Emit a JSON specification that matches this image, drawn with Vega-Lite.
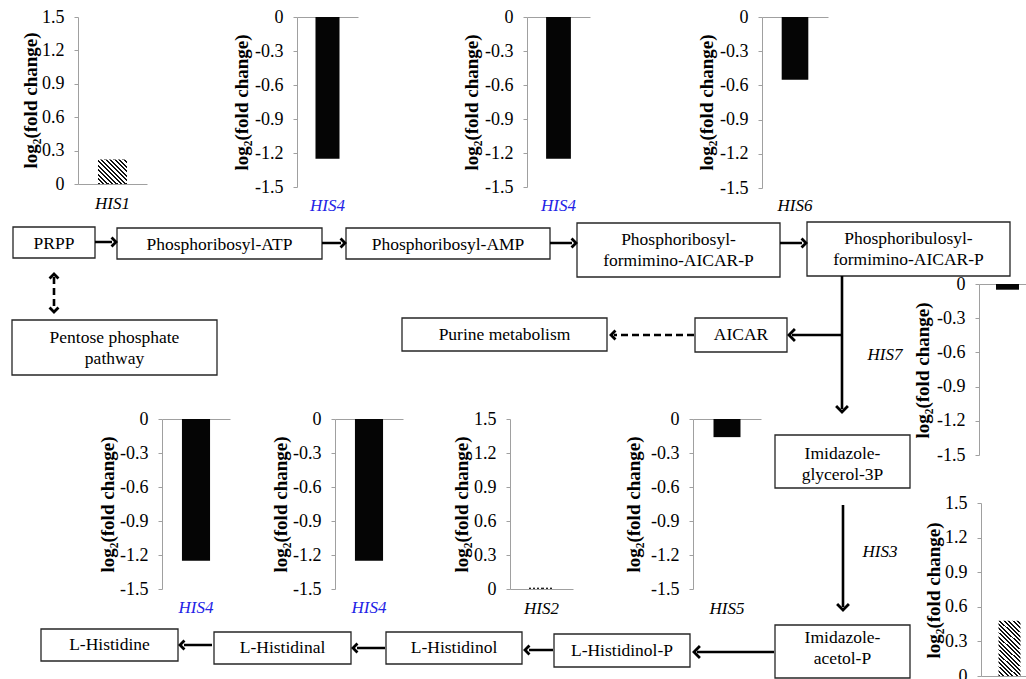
{
  "$schema": "https://vega.github.io/schema/vega-lite/v6.json",
  "width": 1026,
  "height": 679,
  "padding": 0,
  "autosize": {"type": "none"},
  "background": "white",
  "config": {
    "view": {"stroke": null},
    "axis": {"grid": false, "domainColor": "#a0a0a0", "tickColor": "#a0a0a0", "labelFont": "Liberation Serif", "labelFontSize": 18, "labelColor": "#000", "titleFont": "Liberation Serif", "titleFontSize": 19, "titleFontWeight": "bold", "titleColor": "#000"},
    "axisY": {"tickSize": 4, "labelPadding": 10, "titleBaseline": "middle", "titleAlign": "center", "titleAngle": -90},
    "text": {"font": "Liberation Serif", "fontSize": 17}
  },
  "datasets": {
    "boxes": [
      {"label": "PRPP", "x1": 13, "x2": 95, "y1": 227, "y2": 258, "tx": 54, "ty": 244},
      {"label": "Phosphoribosyl-ATP", "x1": 117, "x2": 322, "y1": 228, "y2": 259, "tx": 219.5, "ty": 244.5},
      {"label": "Phosphoribosyl-AMP", "x1": 346, "x2": 550, "y1": 228, "y2": 259, "tx": 448, "ty": 244.5},
      {"label": "Phosphoribosyl-\nformimino-AICAR-P", "x1": 577, "x2": 780, "y1": 223, "y2": 277, "tx": 678.5, "ty": 240},
      {"label": "Phosphoribulosyl-\nformimino-AICAR-P", "x1": 807, "x2": 1010, "y1": 222, "y2": 276, "tx": 908.5, "ty": 239},
      {"label": "Pentose phosphate\npathway", "x1": 12, "x2": 217, "y1": 320, "y2": 375, "tx": 114.5, "ty": 338},
      {"label": "Purine metabolism", "x1": 402, "x2": 607, "y1": 318, "y2": 351, "tx": 504.5, "ty": 335},
      {"label": "AICAR", "x1": 695, "x2": 787, "y1": 318, "y2": 352, "tx": 741, "ty": 335},
      {"label": "Imidazole-\nglycerol-3P", "x1": 775, "x2": 910, "y1": 435, "y2": 488, "tx": 842.5, "ty": 454},
      {"label": "Imidazole-\nacetol-P", "x1": 775, "x2": 910, "y1": 625, "y2": 678, "tx": 842.5, "ty": 638},
      {"label": "L-Histidinol-P", "x1": 554, "x2": 690, "y1": 634, "y2": 667, "tx": 622, "ty": 650.5},
      {"label": "L-Histidinol", "x1": 386, "x2": 522, "y1": 632, "y2": 664, "tx": 454, "ty": 648},
      {"label": "L-Histidinal", "x1": 214, "x2": 351, "y1": 632, "y2": 664, "tx": 282.5, "ty": 648},
      {"label": "L-Histidine", "x1": 41, "x2": 178, "y1": 629, "y2": 661, "tx": 109.5, "ty": 645}
    ],
    "lines": [
      {"x1": 95, "y1": 242, "x2": 112, "y2": 242, "dash": "solid"},
      {"x1": 322, "y1": 243, "x2": 341, "y2": 243, "dash": "solid"},
      {"x1": 550, "y1": 243, "x2": 572, "y2": 243, "dash": "solid"},
      {"x1": 780, "y1": 243, "x2": 802, "y2": 243, "dash": "solid"},
      {"x1": 842, "y1": 276, "x2": 842, "y2": 409, "dash": "solid"},
      {"x1": 842, "y1": 335, "x2": 792, "y2": 335, "dash": "solid"},
      {"x1": 843, "y1": 505, "x2": 843, "y2": 607, "dash": "solid"},
      {"x1": 774, "y1": 652, "x2": 697, "y2": 652, "dash": "solid"},
      {"x1": 553, "y1": 650, "x2": 529, "y2": 650, "dash": "solid"},
      {"x1": 385, "y1": 648, "x2": 357, "y2": 648, "dash": "solid"},
      {"x1": 212, "y1": 645, "x2": 184, "y2": 645, "dash": "solid"},
      {"x1": 54, "y1": 277, "x2": 54, "y2": 309, "dash": "dashed"},
      {"x1": 694, "y1": 335, "x2": 614, "y2": 335, "dash": "dashed"}
    ],
    "heads": [
      {"x": 116, "y": 242, "angle": 0, "kind": "short"},
      {"x": 345, "y": 243, "angle": 0, "kind": "short"},
      {"x": 576, "y": 243, "angle": 0, "kind": "short"},
      {"x": 806, "y": 243, "angle": 0, "kind": "short"},
      {"x": 842, "y": 412, "angle": 90, "kind": "long"},
      {"x": 789, "y": 335, "angle": 180, "kind": "long"},
      {"x": 843, "y": 610, "angle": 90, "kind": "long"},
      {"x": 694, "y": 652, "angle": 180, "kind": "long"},
      {"x": 525, "y": 650, "angle": 180, "kind": "short"},
      {"x": 353, "y": 648, "angle": 180, "kind": "short"},
      {"x": 180, "y": 645, "angle": 180, "kind": "short"},
      {"x": 54, "y": 274, "angle": 270, "kind": "short"},
      {"x": 54, "y": 312, "angle": 90, "kind": "short"},
      {"x": 611, "y": 335, "angle": 180, "kind": "short"}
    ],
    "enzymes": [
      {"t": "HIS7", "x": 885, "y": 355},
      {"t": "HIS3", "x": 880, "y": 552}
    ]
  },
  "layer": [
    {
      "layer": [
        {
          "data": {"name": "boxes"},
          "mark": {"type": "rect", "fill": "white", "stroke": "#262626", "strokeWidth": 1.3},
          "encoding": {
            "x": {"field": "x1", "type": "quantitative", "scale": {"domain": [0, 1026], "range": [0, 1026], "nice": false, "zero": false}, "axis": null},
            "x2": {"field": "x2"},
            "y": {"field": "y1", "type": "quantitative", "scale": {"domain": [0, 679], "range": [0, 679], "nice": false, "zero": false}, "axis": null},
            "y2": {"field": "y2"}
          }
        },
        {
          "data": {"name": "boxes"},
          "mark": {"type": "text", "baseline": "middle", "align": "center", "lineBreak": "\n", "lineHeight": 21, "fontSize": 17.5, "color": "#000"},
          "encoding": {
            "x": {"field": "tx", "type": "quantitative", "scale": {"domain": [0, 1026], "range": [0, 1026], "nice": false, "zero": false}, "axis": null},
            "y": {"field": "ty", "type": "quantitative", "scale": {"domain": [0, 679], "range": [0, 679], "nice": false, "zero": false}, "axis": null},
            "text": {"field": "label"}
          }
        },
        {
          "data": {"name": "lines"},
          "mark": {"type": "rule", "color": "#000", "strokeWidth": 2.6},
          "encoding": {
            "x": {"field": "x1", "type": "quantitative", "scale": {"domain": [0, 1026], "range": [0, 1026], "nice": false, "zero": false}, "axis": null},
            "x2": {"field": "x2"},
            "y": {"field": "y1", "type": "quantitative", "scale": {"domain": [0, 679], "range": [0, 679], "nice": false, "zero": false}, "axis": null},
            "y2": {"field": "y2"},
            "strokeDash": {"field": "dash", "type": "nominal", "scale": {"domain": ["solid", "dashed"], "range": [[1, 0], [7, 4]]}, "legend": null}
          }
        },
        {
          "data": {"name": "heads"},
          "mark": {"type": "point", "shape": "M-1,-1L0,0L-1,1", "filled": false, "stroke": "#000", "strokeWidth": 2.8, "opacity": 1, "strokeJoin": "miter"},
          "encoding": {
            "x": {"field": "x", "type": "quantitative", "scale": {"domain": [0, 1026], "range": [0, 1026], "nice": false, "zero": false}, "axis": null},
            "y": {"field": "y", "type": "quantitative", "scale": {"domain": [0, 679], "range": [0, 679], "nice": false, "zero": false}, "axis": null},
            "angle": {"field": "angle", "type": "quantitative", "scale": null},
            "size": {"field": "kind", "type": "ordinal", "scale": {"domain": ["short", "long"], "range": [80, 140]}, "legend": null}
          }
        },
        {
          "data": {"name": "enzymes"},
          "mark": {"type": "text", "baseline": "middle", "align": "center", "fontStyle": "italic", "color": "#000"},
          "encoding": {
            "x": {"field": "x", "type": "quantitative", "scale": {"domain": [0, 1026], "range": [0, 1026], "nice": false, "zero": false}, "axis": null},
            "y": {"field": "y", "type": "quantitative", "scale": {"domain": [0, 679], "range": [0, 679], "nice": false, "zero": false}, "axis": null},
            "text": {"field": "t"}
          }
        }
      ]
    },
    {
      "data": {"values": [{"gene": "HIS1", "value": 0.22}]},
      "encoding": {
        "x": {"field": "gene", "type": "nominal", "scale": {"type": "band", "domain": ["HIS1"], "range": [78, 147], "paddingInner": 0, "paddingOuter": 0.69}, "axis": {"orient": "bottom", "offset": -495, "labels": false, "ticks": false, "title": null, "domain": true}},
        "y": {"field": "value", "type": "quantitative", "stack": null, "scale": {"domain": [0, 1.5], "range": [184, 17], "nice": false}, "axis": {"orient": "left", "offset": -78, "values": [0, 0.3, 0.6, 0.9, 1.2, 1.5], "labelExpr": "datum.value == 0 ? '0' : (datum.value < 0 ? '-' + format(-datum.value, '.1f') : format(datum.value, '.1f'))", "title": "log₂(fold change)", "titleX": -48, "titleY": 100}}
      },
      "layer": [
        {"mark": {"type": "bar", "fill": {"gradient": "linear", "x1": 0, "y1": 1, "x2": 1.068, "y2": 0.079, "stops": [
          {"offset": 0, "color": "#111"}, {"offset": 0.0375, "color": "#111"}, {"offset": 0.0375, "color": "#fff"}, {"offset": 0.0833, "color": "#fff"},
          {"offset": 0.0833, "color": "#111"}, {"offset": 0.1208, "color": "#111"}, {"offset": 0.1208, "color": "#fff"}, {"offset": 0.1667, "color": "#fff"},
          {"offset": 0.1667, "color": "#111"}, {"offset": 0.2042, "color": "#111"}, {"offset": 0.2042, "color": "#fff"}, {"offset": 0.25, "color": "#fff"},
          {"offset": 0.25, "color": "#111"}, {"offset": 0.2875, "color": "#111"}, {"offset": 0.2875, "color": "#fff"}, {"offset": 0.3333, "color": "#fff"},
          {"offset": 0.3333, "color": "#111"}, {"offset": 0.3708, "color": "#111"}, {"offset": 0.3708, "color": "#fff"}, {"offset": 0.4167, "color": "#fff"},
          {"offset": 0.4167, "color": "#111"}, {"offset": 0.4542, "color": "#111"}, {"offset": 0.4542, "color": "#fff"}, {"offset": 0.5, "color": "#fff"},
          {"offset": 0.5, "color": "#111"}, {"offset": 0.5375, "color": "#111"}, {"offset": 0.5375, "color": "#fff"}, {"offset": 0.5833, "color": "#fff"},
          {"offset": 0.5833, "color": "#111"}, {"offset": 0.6208, "color": "#111"}, {"offset": 0.6208, "color": "#fff"}, {"offset": 0.6667, "color": "#fff"},
          {"offset": 0.6667, "color": "#111"}, {"offset": 0.7042, "color": "#111"}, {"offset": 0.7042, "color": "#fff"}, {"offset": 0.75, "color": "#fff"},
          {"offset": 0.75, "color": "#111"}, {"offset": 0.7875, "color": "#111"}, {"offset": 0.7875, "color": "#fff"}, {"offset": 0.8333, "color": "#fff"},
          {"offset": 0.8333, "color": "#111"}, {"offset": 0.8708, "color": "#111"}, {"offset": 0.8708, "color": "#fff"}, {"offset": 0.9167, "color": "#fff"},
          {"offset": 0.9167, "color": "#111"}, {"offset": 0.9542, "color": "#111"}, {"offset": 0.9542, "color": "#fff"}, {"offset": 1, "color": "#fff"}
        ]}}},
        {"mark": {"type": "text", "fontStyle": "italic", "baseline": "alphabetic", "align": "center", "dy": 25, "color": "#000"}, "encoding": {"y": {"datum": 0}, "text": {"field": "gene"}}}
      ]
    },
    {
      "data": {"values": [{"gene": "HIS4", "value": -1.25}]},
      "encoding": {
        "x": {"field": "gene", "type": "nominal", "scale": {"type": "band", "domain": ["HIS4"], "range": [297, 358], "paddingInner": 0, "paddingOuter": 0.77}, "axis": {"orient": "top", "offset": -17, "labels": false, "ticks": false, "title": null, "domain": true}},
        "y": {"field": "value", "type": "quantitative", "stack": null, "scale": {"domain": [-1.5, 0], "range": [187, 17], "nice": false}, "axis": {"orient": "left", "offset": -297, "values": [0, -0.3, -0.6, -0.9, -1.2, -1.5], "labelExpr": "datum.value == 0 ? '0' : (datum.value < 0 ? '-' + format(-datum.value, '.1f') : format(datum.value, '.1f'))", "title": "log₂(fold change)", "titleX": -56, "titleY": 102}}
      },
      "layer": [
        {"mark": {"type": "bar", "fill": "#050505"}},
        {"mark": {"type": "text", "fontStyle": "italic", "baseline": "alphabetic", "align": "center", "dy": 24, "color": "#2323e6"}, "encoding": {"y": {"datum": -1.5}, "text": {"field": "gene"}}}
      ]
    },
    {
      "data": {"values": [{"gene": "HIS4", "value": -1.25}]},
      "encoding": {
        "x": {"field": "gene", "type": "nominal", "scale": {"type": "band", "domain": ["HIS4"], "range": [527, 590], "paddingInner": 0, "paddingOuter": 0.77}, "axis": {"orient": "top", "offset": -17, "labels": false, "ticks": false, "title": null, "domain": true}},
        "y": {"field": "value", "type": "quantitative", "stack": null, "scale": {"domain": [-1.5, 0], "range": [187, 17], "nice": false}, "axis": {"orient": "left", "offset": -527, "values": [0, -0.3, -0.6, -0.9, -1.2, -1.5], "labelExpr": "datum.value == 0 ? '0' : (datum.value < 0 ? '-' + format(-datum.value, '.1f') : format(datum.value, '.1f'))", "title": "log₂(fold change)", "titleX": -56, "titleY": 102}}
      },
      "layer": [
        {"mark": {"type": "bar", "fill": "#050505"}},
        {"mark": {"type": "text", "fontStyle": "italic", "baseline": "alphabetic", "align": "center", "dy": 24, "color": "#2323e6"}, "encoding": {"y": {"datum": -1.5}, "text": {"field": "gene"}}}
      ]
    },
    {
      "data": {"values": [{"gene": "HIS6", "value": -0.55}]},
      "encoding": {
        "x": {"field": "gene", "type": "nominal", "scale": {"type": "band", "domain": ["HIS6"], "range": [762, 828], "paddingInner": 0, "paddingOuter": 0.74}, "axis": {"orient": "top", "offset": -17, "labels": false, "ticks": false, "title": null, "domain": true}},
        "y": {"field": "value", "type": "quantitative", "stack": null, "scale": {"domain": [-1.5, 0], "range": [188, 17], "nice": false}, "axis": {"orient": "left", "offset": -762, "values": [0, -0.3, -0.6, -0.9, -1.2, -1.5], "labelExpr": "datum.value == 0 ? '0' : (datum.value < 0 ? '-' + format(-datum.value, '.1f') : format(datum.value, '.1f'))", "title": "log₂(fold change)", "titleX": -56, "titleY": 102}}
      },
      "layer": [
        {"mark": {"type": "bar", "fill": "#050505"}},
        {"mark": {"type": "text", "fontStyle": "italic", "baseline": "alphabetic", "align": "center", "dy": 23, "color": "#000"}, "encoding": {"y": {"datum": -1.5}, "text": {"field": "gene"}}}
      ]
    },
    {
      "data": {"values": [{"gene": "HIS7", "value": -0.05}]},
      "encoding": {
        "x": {"field": "gene", "type": "nominal", "scale": {"type": "band", "domain": ["HIS7"], "range": [979, 1036], "paddingInner": 0, "paddingOuter": 0.74}, "axis": {"orient": "top", "offset": -284, "labels": false, "ticks": false, "title": null, "domain": true}},
        "y": {"field": "value", "type": "quantitative", "stack": null, "scale": {"domain": [-1.5, 0], "range": [455, 284], "nice": false}, "axis": {"orient": "left", "offset": -979, "values": [0, -0.3, -0.6, -0.9, -1.2, -1.5], "labelExpr": "datum.value == 0 ? '0' : (datum.value < 0 ? '-' + format(-datum.value, '.1f') : format(datum.value, '.1f'))", "title": "log₂(fold change)", "titleX": -57, "titleY": 370}}
      },
      "layer": [
        {"mark": {"type": "bar", "fill": "#050505"}}
      ]
    },
    {
      "data": {"values": [{"gene": "HIS4", "value": -1.25}]},
      "encoding": {
        "x": {"field": "gene", "type": "nominal", "scale": {"type": "band", "domain": ["HIS4"], "range": [162, 230], "paddingInner": 0, "paddingOuter": 0.71}, "axis": {"orient": "top", "offset": -419, "labels": false, "ticks": false, "title": null, "domain": true}},
        "y": {"field": "value", "type": "quantitative", "stack": null, "scale": {"domain": [-1.5, 0], "range": [589, 419], "nice": false}, "axis": {"orient": "left", "offset": -162, "values": [0, -0.3, -0.6, -0.9, -1.2, -1.5], "labelExpr": "datum.value == 0 ? '0' : (datum.value < 0 ? '-' + format(-datum.value, '.1f') : format(datum.value, '.1f'))", "title": "log₂(fold change)", "titleX": -55, "titleY": 504}}
      },
      "layer": [
        {"mark": {"type": "bar", "fill": "#050505"}},
        {"mark": {"type": "text", "fontStyle": "italic", "baseline": "alphabetic", "align": "center", "dy": 24, "color": "#2323e6"}, "encoding": {"y": {"datum": -1.5}, "text": {"field": "gene"}}}
      ]
    },
    {
      "data": {"values": [{"gene": "HIS4", "value": -1.25}]},
      "encoding": {
        "x": {"field": "gene", "type": "nominal", "scale": {"type": "band", "domain": ["HIS4"], "range": [335, 403], "paddingInner": 0, "paddingOuter": 0.71}, "axis": {"orient": "top", "offset": -419, "labels": false, "ticks": false, "title": null, "domain": true}},
        "y": {"field": "value", "type": "quantitative", "stack": null, "scale": {"domain": [-1.5, 0], "range": [589, 419], "nice": false}, "axis": {"orient": "left", "offset": -335, "values": [0, -0.3, -0.6, -0.9, -1.2, -1.5], "labelExpr": "datum.value == 0 ? '0' : (datum.value < 0 ? '-' + format(-datum.value, '.1f') : format(datum.value, '.1f'))", "title": "log₂(fold change)", "titleX": -55, "titleY": 504}}
      },
      "layer": [
        {"mark": {"type": "bar", "fill": "#050505"}},
        {"mark": {"type": "text", "fontStyle": "italic", "baseline": "alphabetic", "align": "center", "dy": 24, "color": "#2323e6"}, "encoding": {"y": {"datum": -1.5}, "text": {"field": "gene"}}}
      ]
    },
    {
      "data": {"values": [{"gene": "HIS2", "value": 0.012}]},
      "encoding": {
        "x": {"field": "gene", "type": "nominal", "scale": {"type": "band", "domain": ["HIS2"], "range": [510, 573], "paddingInner": 0, "paddingOuter": 0.76}, "axis": {"orient": "bottom", "offset": -90, "labels": false, "ticks": false, "title": null, "domain": true}},
        "y": {"field": "value", "type": "quantitative", "stack": null, "scale": {"domain": [0, 1.5], "range": [589, 419], "nice": false}, "axis": {"orient": "left", "offset": -510, "values": [0, 0.3, 0.6, 0.9, 1.2, 1.5], "labelExpr": "datum.value == 0 ? '0' : (datum.value < 0 ? '-' + format(-datum.value, '.1f') : format(datum.value, '.1f'))", "title": "log₂(fold change)", "titleX": -49, "titleY": 504}}
      },
      "layer": [
        {"mark": {"type": "bar", "fill": {"gradient": "linear", "x1": 0, "y1": 0, "x2": 1, "y2": 0, "stops": [
          {"offset": 0, "color": "#222"}, {"offset": 0.08, "color": "#222"}, {"offset": 0.08, "color": "#fff"}, {"offset": 0.167, "color": "#fff"},
          {"offset": 0.167, "color": "#222"}, {"offset": 0.25, "color": "#222"}, {"offset": 0.25, "color": "#fff"}, {"offset": 0.333, "color": "#fff"},
          {"offset": 0.333, "color": "#222"}, {"offset": 0.417, "color": "#222"}, {"offset": 0.417, "color": "#fff"}, {"offset": 0.5, "color": "#fff"},
          {"offset": 0.5, "color": "#222"}, {"offset": 0.583, "color": "#222"}, {"offset": 0.583, "color": "#fff"}, {"offset": 0.667, "color": "#fff"},
          {"offset": 0.667, "color": "#222"}, {"offset": 0.75, "color": "#222"}, {"offset": 0.75, "color": "#fff"}, {"offset": 0.833, "color": "#fff"},
          {"offset": 0.833, "color": "#222"}, {"offset": 0.917, "color": "#222"}, {"offset": 0.917, "color": "#fff"}, {"offset": 1, "color": "#fff"}
        ]}}},
        {"mark": {"type": "text", "fontStyle": "italic", "baseline": "alphabetic", "align": "center", "dy": 25, "color": "#000"}, "encoding": {"y": {"datum": 0}, "text": {"field": "gene"}}}
      ]
    },
    {
      "data": {"values": [{"gene": "HIS5", "value": -0.16}]},
      "encoding": {
        "x": {"field": "gene", "type": "nominal", "scale": {"type": "band", "domain": ["HIS5"], "range": [693, 761], "paddingInner": 0, "paddingOuter": 0.76}, "axis": {"orient": "top", "offset": -419, "labels": false, "ticks": false, "title": null, "domain": true}},
        "y": {"field": "value", "type": "quantitative", "stack": null, "scale": {"domain": [-1.5, 0], "range": [589, 419], "nice": false}, "axis": {"orient": "left", "offset": -693, "values": [0, -0.3, -0.6, -0.9, -1.2, -1.5], "labelExpr": "datum.value == 0 ? '0' : (datum.value < 0 ? '-' + format(-datum.value, '.1f') : format(datum.value, '.1f'))", "title": "log₂(fold change)", "titleX": -60, "titleY": 504}}
      },
      "layer": [
        {"mark": {"type": "bar", "fill": "#050505"}},
        {"mark": {"type": "text", "fontStyle": "italic", "baseline": "alphabetic", "align": "center", "dy": 25, "color": "#000"}, "encoding": {"y": {"datum": -1.5}, "text": {"field": "gene"}}}
      ]
    },
    {
      "data": {"values": [{"gene": "HIS3", "value": 0.48}]},
      "encoding": {
        "x": {"field": "gene", "type": "nominal", "scale": {"type": "band", "domain": ["HIS3"], "range": [981, 1038], "paddingInner": 0, "paddingOuter": 0.8}, "axis": {"orient": "bottom", "offset": -3, "labels": false, "ticks": false, "title": null, "domain": true}},
        "y": {"field": "value", "type": "quantitative", "stack": null, "scale": {"domain": [0, 1.5], "range": [676, 503], "nice": false}, "axis": {"orient": "left", "offset": -981, "values": [0, 0.3, 0.6, 0.9, 1.2, 1.5], "labelExpr": "datum.value == 0 ? '0' : (datum.value < 0 ? '-' + format(-datum.value, '.1f') : format(datum.value, '.1f'))", "title": "log₂(fold change)", "titleX": -48, "titleY": 590}}
      },
      "layer": [
        {"mark": {"type": "bar", "fill": {"gradient": "linear", "x1": 0, "y1": 1, "x2": 0.461, "y2": -0.206, "stops": [
          {"offset": 0, "color": "#111"}, {"offset": 0.025, "color": "#111"}, {"offset": 0.025, "color": "#fff"}, {"offset": 0.0556, "color": "#fff"},
          {"offset": 0.0556, "color": "#111"}, {"offset": 0.0806, "color": "#111"}, {"offset": 0.0806, "color": "#fff"}, {"offset": 0.1111, "color": "#fff"},
          {"offset": 0.1111, "color": "#111"}, {"offset": 0.1361, "color": "#111"}, {"offset": 0.1361, "color": "#fff"}, {"offset": 0.1667, "color": "#fff"},
          {"offset": 0.1667, "color": "#111"}, {"offset": 0.1917, "color": "#111"}, {"offset": 0.1917, "color": "#fff"}, {"offset": 0.2222, "color": "#fff"},
          {"offset": 0.2222, "color": "#111"}, {"offset": 0.2472, "color": "#111"}, {"offset": 0.2472, "color": "#fff"}, {"offset": 0.2778, "color": "#fff"},
          {"offset": 0.2778, "color": "#111"}, {"offset": 0.3028, "color": "#111"}, {"offset": 0.3028, "color": "#fff"}, {"offset": 0.3333, "color": "#fff"},
          {"offset": 0.3333, "color": "#111"}, {"offset": 0.3583, "color": "#111"}, {"offset": 0.3583, "color": "#fff"}, {"offset": 0.3889, "color": "#fff"},
          {"offset": 0.3889, "color": "#111"}, {"offset": 0.4139, "color": "#111"}, {"offset": 0.4139, "color": "#fff"}, {"offset": 0.4444, "color": "#fff"},
          {"offset": 0.4444, "color": "#111"}, {"offset": 0.4694, "color": "#111"}, {"offset": 0.4694, "color": "#fff"}, {"offset": 0.5, "color": "#fff"},
          {"offset": 0.5, "color": "#111"}, {"offset": 0.525, "color": "#111"}, {"offset": 0.525, "color": "#fff"}, {"offset": 0.5556, "color": "#fff"},
          {"offset": 0.5556, "color": "#111"}, {"offset": 0.5806, "color": "#111"}, {"offset": 0.5806, "color": "#fff"}, {"offset": 0.6111, "color": "#fff"},
          {"offset": 0.6111, "color": "#111"}, {"offset": 0.6361, "color": "#111"}, {"offset": 0.6361, "color": "#fff"}, {"offset": 0.6667, "color": "#fff"},
          {"offset": 0.6667, "color": "#111"}, {"offset": 0.6917, "color": "#111"}, {"offset": 0.6917, "color": "#fff"}, {"offset": 0.7222, "color": "#fff"},
          {"offset": 0.7222, "color": "#111"}, {"offset": 0.7472, "color": "#111"}, {"offset": 0.7472, "color": "#fff"}, {"offset": 0.7778, "color": "#fff"},
          {"offset": 0.7778, "color": "#111"}, {"offset": 0.8028, "color": "#111"}, {"offset": 0.8028, "color": "#fff"}, {"offset": 0.8333, "color": "#fff"},
          {"offset": 0.8333, "color": "#111"}, {"offset": 0.8583, "color": "#111"}, {"offset": 0.8583, "color": "#fff"}, {"offset": 0.8889, "color": "#fff"},
          {"offset": 0.8889, "color": "#111"}, {"offset": 0.9139, "color": "#111"}, {"offset": 0.9139, "color": "#fff"}, {"offset": 0.9444, "color": "#fff"},
          {"offset": 0.9444, "color": "#111"}, {"offset": 0.9694, "color": "#111"}, {"offset": 0.9694, "color": "#fff"}, {"offset": 1, "color": "#fff"}
        ]}}}
      ]
    }
  ],
  "resolve": {"scale": {"x": "independent", "y": "independent"}, "axis": {"x": "independent", "y": "independent"}}
}
